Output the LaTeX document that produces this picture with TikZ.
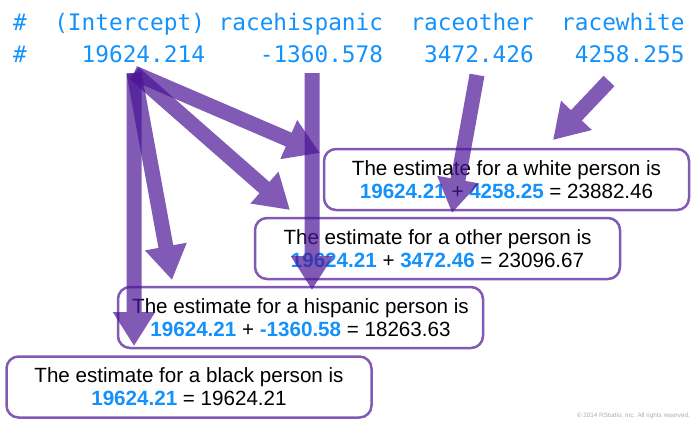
\documentclass[tikz,border=0pt]{standalone}
\usepackage{fontspec}
\setmainfont{Liberation Sans}
\setmonofont{DejaVu Sans Mono}
\usepackage{xcolor}
\usetikzlibrary{arrows.meta}

\definecolor{rsblue}{RGB}{20,145,250}
\definecolor{boxpurple}{RGB}{130,90,180}
\definecolor{arrowpurple}{RGB}{75,20,150}
\definecolor{notegray}{RGB}{170,170,170}

\newcommand{\coefval}[1]{\textcolor{rsblue}{\textbf{#1}}}

\tikzset{
    coef/.style={anchor=base west, inner sep=0pt, text=rsblue,
        font=\ttfamily\fontsize{22.75}{24}\selectfont},
    estbox/.style={draw=boxpurple, line width=2.5pt, rounded corners=12pt,
        minimum width=365pt, minimum height=61pt, inner sep=0pt, align=center,
        font=\fontsize{20.6}{23}\selectfont},
    fat/.style={draw=arrowpurple, fill=arrowpurple, line width=15pt,
        -{Triangle[length=34pt,width=40pt]}},
}

\begin{document}
\begin{tikzpicture}[x=1pt,y=-1pt]
        \useasboundingbox (0,0) rectangle (695,424);

        \foreach \col/\txt [count=\i] in {0/\#,3/(Intercept),15/racehispanic,29/raceother,40/racewhite}{% header row
            \node[coef] (h\i) at ({13+\col*13.7},30) {\txt};
        }
        \foreach \col/\txt [count=\i] in {0/\#,5/19624.214,18/-1360.578,30/3472.426,41/4258.255}{% values row
            \node[coef] (b\i) at ({13+\col*13.7},62) {\txt};
        }

        \node[estbox] (white) at (506.5,179.5) {The estimate for a white person is\\\coefval{19624.21} + \coefval{4258.25} = 23882.46};
        \node[estbox] (other) at (437.5,248.5) {The estimate for a other person is\\\coefval{19624.21} + \coefval{3472.46} = 23096.67};
        \node[estbox] (hispanic) at (300.5,317.5) {The estimate for a hispanic person is\\\coefval{19624.21} + \coefval{-1360.58} = 18263.63};
        \node[estbox] (black) at (189,387) {The estimate for a black person is\\\coefval{19624.21} = 19624.21};

        \node[anchor=base east, inner sep=0pt, text=notegray, font=\fontsize{6.3}{7}\selectfont] (note) at (690,417) {\textcopyright{} 2014 RStudio, Inc. All rights reserved.};

        % tails below the coefficients, tips at the boxes
        \coordinate (fromint) at (134,73);
        \coordinate (fromhisp) at (312,73);
        \coordinate (fromother) at (477,75);
        \coordinate (fromwhite) at (609,81);
        \coordinate (toblack) at (134,346);
        \coordinate (tohisp) at (172,280);
        \coordinate (toother) at (290,210);
        \coordinate (towhite) at (320,153);
        \coordinate (hisptip) at (312,290);
        \coordinate (othertip) at (452,213);
        \coordinate (whitetip) at (553,140);

        \foreach \a/\b in {fromint/toblack,fromint/tohisp,fromint/toother,fromint/towhite,fromhisp/hisptip,fromother/othertip,fromwhite/whitetip}{% arrows
            \begin{scope}[transparency group, opacity=0.7]
                \draw[fat] (\a) -- (\b);
            \end{scope}
        }
    \end{tikzpicture}
\end{document}
